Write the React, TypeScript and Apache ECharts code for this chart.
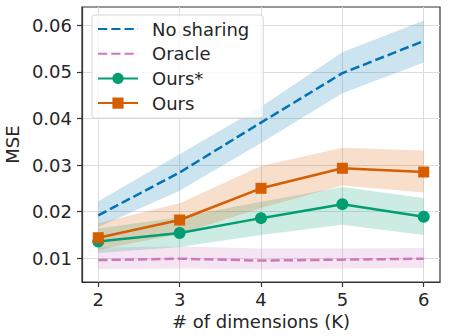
import React, { useEffect, useRef } from "react";
import * as echarts from "echarts";

const xs = [2, 3, 4, 5, 6];
const xTicks = [2, 3, 4, 5, 6];
const yTicks = [0.01, 0.02, 0.03, 0.04, 0.05, 0.06];

const noSharing = [0.0192, 0.0284, 0.0391, 0.0497, 0.0566];
const noSharingLow = [0.0167, 0.0245, 0.0347, 0.0454, 0.052];
const noSharingHigh = [0.0222, 0.0323, 0.0425, 0.0542, 0.061];

const oracle = [0.0096, 0.0099, 0.0095, 0.0097, 0.0099];
const oracleLow = [0.0077, 0.0078, 0.0077, 0.0078, 0.0079];
const oracleHigh = [0.0123, 0.0125, 0.0121, 0.0121, 0.0122];

const oursStar = [0.0136, 0.0154, 0.0186, 0.0216, 0.0189];
const oursStarLow = [0.0111, 0.0124, 0.015, 0.0172, 0.015];
const oursStarHigh = [0.0164, 0.0188, 0.0221, 0.0253, 0.0229];

const ours = [0.0144, 0.0182, 0.025, 0.0293, 0.0285];
const oursLow = [0.0118, 0.0152, 0.0208, 0.0256, 0.0241];
const oursHigh = [0.0175, 0.0218, 0.0298, 0.0337, 0.0331];

const BLUE = "#0173b2";
const PINK = "#cc78bc";
const GREEN = "#029e73";
const ORANGE = "#d55e00";
const TEXT = "#262626";
const FONT = "DejaVu Sans";

const pairs = (ys: number[]) => xs.map((x, i) => [x, ys[i]]);

function band(name: string, low: number[], high: number[], color: string) {
  const rows = xs.map((x, i) => [x, low[i], high[i]]);
  return {
    name: name + "_band",
    type: "custom",
    data: rows,
    encode: { x: 0, y: [1, 2] },
    z: 1,
    silent: true,
    renderItem: (params: any, api: any) => {
      if (params.dataIndex !== 0) return null;
      const top = rows.map((r) => api.coord([r[0], r[2]]));
      const bottom = rows.map((r) => api.coord([r[0], r[1]])).reverse();
      return {
        type: "polygon",
        shape: { points: top.concat(bottom) },
        style: { fill: color, opacity: 0.2 },
      };
    },
  };
}

export default function App() {
  const ref = useRef<HTMLDivElement>(null);
  useEffect(() => {
    if (!ref.current) return;
    const chart = echarts.init(ref.current, null, { renderer: "svg" });
    const dash = [9.25, 4];
    chart.setOption({
      animation: false,
      textStyle: { fontFamily: FONT, color: TEXT },
      grid: {
        left: 82,
        right: 9,
        top: 7,
        bottom: 54,
        outerBoundsMode: "none",
        containLabel: false,
        show: true,
        borderColor: "#333",
        borderWidth: 1.2,
        backgroundColor: "transparent",
      },
      legend: {
        orient: "vertical",
        left: 92,
        top: 15,
        padding: [4, 14, 5, 5],
        itemWidth: 40,
        itemHeight: 14,
        itemGap: 4.7,
        backgroundColor: "rgba(255,255,255,0.8)",
        borderColor: "#d6d6d6",
        borderWidth: 1,
        borderRadius: 3,
        textStyle: {
          fontFamily: FONT,
          fontSize: 18,
          color: TEXT,
          lineHeight: 20,
          padding: [0, 0, 0, 9],
        },
        data: [
          { name: "No sharing", itemStyle: { opacity: 0 } },
          { name: "Oracle", itemStyle: { opacity: 0 } },
          { name: "Ours*" },
          { name: "Ours" },
        ],
      },
      xAxis: {
        type: "value",
        min: 1.8,
        max: 6.2,
        name: "# of dimensions (K)",
        nameLocation: "middle",
        nameGap: 27,
        nameTextStyle: { fontFamily: FONT, fontSize: 18, color: TEXT },
        axisLine: { show: true, lineStyle: { color: "#333", width: 1.2 } },
        axisTick: {
          show: true,
          customValues: xTicks,
          length: 5,
          lineStyle: { color: "#333", width: 1.2 },
        },
        axisLabel: {
          customValues: xTicks,
          fontFamily: FONT,
          fontSize: 18,
          color: TEXT,
          margin: 8,
        },
        splitLine: { show: true, lineStyle: { color: "#dcdcdc", width: 1 } },
      },
      yAxis: {
        type: "value",
        min: 0.0049,
        max: 0.0639,
        name: "MSE",
        nameLocation: "middle",
        nameGap: 58,
        nameTextStyle: { fontFamily: FONT, fontSize: 18, color: TEXT },
        axisLine: { show: true, lineStyle: { color: "#333", width: 1.2 } },
        axisTick: {
          show: true,
          customValues: yTicks,
          length: 5,
          lineStyle: { color: "#333", width: 1.2 },
        },
        axisLabel: {
          customValues: yTicks,
          fontFamily: FONT,
          fontSize: 18,
          color: TEXT,
          margin: 10,
          formatter: (v: number) => v.toFixed(2),
        },
        splitLine: { show: true, lineStyle: { color: "#dcdcdc", width: 1 } },
      },
      series: [
        band("ns", noSharingLow, noSharingHigh, BLUE),
        band("or", oracleLow, oracleHigh, PINK),
        band("os", oursStarLow, oursStarHigh, GREEN),
        band("ou", oursLow, oursHigh, ORANGE),
        {
          name: "No sharing",
          type: "line",
          data: pairs(noSharing),
          symbol: "none",
          color: BLUE,
          lineStyle: { color: BLUE, width: 2.5, type: dash },
          z: 3,
        },
        {
          name: "Oracle",
          type: "line",
          data: pairs(oracle),
          symbol: "none",
          color: PINK,
          lineStyle: { color: PINK, width: 2.5, type: dash },
          z: 3,
        },
        {
          name: "Ours*",
          type: "line",
          data: pairs(oursStar),
          symbol: "circle",
          symbolSize: 12,
          color: GREEN,
          itemStyle: { color: GREEN },
          lineStyle: { color: GREEN, width: 2.5 },
          z: 4,
        },
        {
          name: "Ours",
          type: "line",
          data: pairs(ours),
          symbol: "rect",
          symbolSize: 11,
          color: ORANGE,
          itemStyle: { color: ORANGE },
          lineStyle: { color: ORANGE, width: 2.5 },
          z: 5,
        },
      ],
    });
    return () => chart.dispose();
  }, []);
  return <div ref={ref} style={{ width: 449, height: 336, position: "absolute", left: 0, top: 0 }} />;
}
